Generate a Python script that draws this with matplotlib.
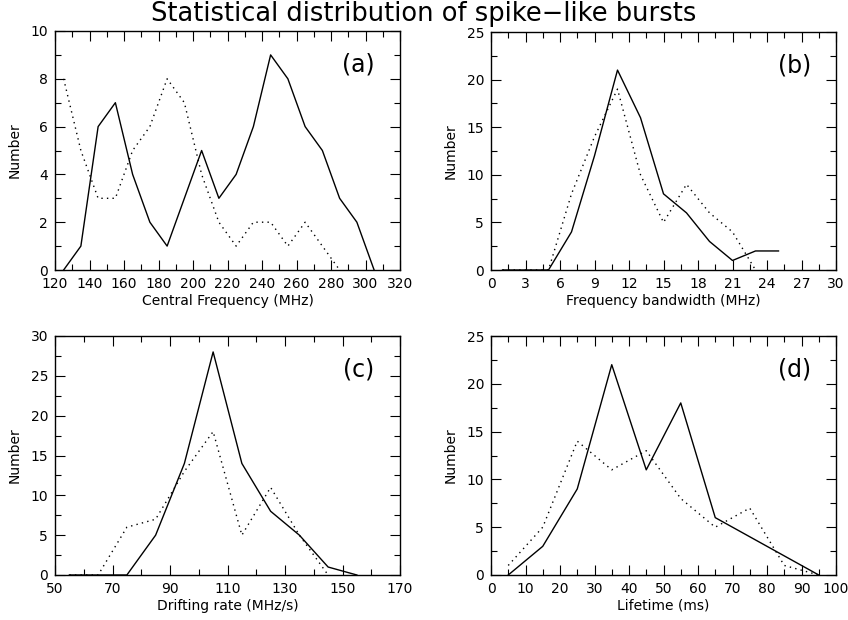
import numpy as np
import matplotlib
matplotlib.use("Agg")
import matplotlib.pyplot as plt
from matplotlib.ticker import MultipleLocator

# (a) central frequency
freq_x = [125, 135, 145, 155, 165, 175, 185, 195, 205, 215, 225, 235, 245, 255, 265, 275, 285, 295, 305]
freq_solid = [0, 1, 6, 7, 4, 2, 1, 3, 5, 3, 4, 6, 9, 8, 6, 5, 3, 2, 0]
freq_dot_x = [125, 135, 145, 155, 165, 175, 185, 195, 205, 215, 225, 235, 245, 255, 265, 275, 285]
freq_dot = [8, 5, 3, 3, 5, 6, 8, 7, 4, 2, 1, 2, 2, 1, 2, 1, 0]

# (b) frequency bandwidth
bw_x = [1, 3, 5, 7, 9, 11, 13, 15, 17, 19, 21, 23, 25]
bw_solid = [0, 0, 0, 4, 12, 21, 16, 8, 6, 3, 1, 2, 2]
bw_dot_x = [1, 3, 5, 7, 9, 11, 13, 15, 17, 19, 21, 23]
bw_dot = [0, 0, 0, 8, 14, 19, 10, 5, 9, 6, 4, 0]

# (c) drifting rate
dr_x = [55, 65, 75, 85, 95, 105, 115, 125, 135, 145, 155]
dr_solid = [0, 0, 0, 5, 14, 28, 14, 8, 5, 1, 0]
dr_dot_x = [55, 65, 75, 85, 95, 105, 115, 125, 135, 145]
dr_dot = [0, 0, 6, 7, 13, 18, 5, 11, 5, 0]

# (d) lifetime
lt_x = [5, 15, 25, 35, 45, 55, 65, 75, 85, 95]
lt_solid = [0, 3, 9, 22, 11, 18, 6, 4, 2, 0]
lt_dot = [1, 5, 14, 11, 13, 8, 5, 7, 1, 0]

W, H = 848, 620
fig = plt.figure(figsize=(W / 100, H / 100), dpi=100)

def box(l, t, r, b):
    return [l / W, 1 - b / H, (r - l) / W, (b - t) / H]

panels = [
    (box(55, 31, 400, 270), freq_x, freq_solid, freq_dot_x, freq_dot,
     (120, 320), (0, 10), 20, 10, 2, 1, "Central Frequency (MHz)", "(a)"),
    (box(491, 32, 836, 270), bw_x, bw_solid, bw_dot_x, bw_dot,
     (0, 30), (0, 25), 3, 1.5, 5, 2.5, "Frequency bandwidth (MHz)", "(b)"),
    (box(55, 336, 400, 575), dr_x, dr_solid, dr_dot_x, dr_dot,
     (50, 170), (0, 30), 20, 10, 5, 2.5, "Drifting rate (MHz/s)", "(c)"),
    (box(491, 336, 836, 575), lt_x, lt_solid, lt_x, lt_dot,
     (0, 100), (0, 25), 10, 5, 5, 2.5, "Lifetime (ms)", "(d)"),
]

for rect, xs, ys, xd, yd, xl, yl, xmaj, xmin, ymaj, ymin, xlabel, tag in panels:
    ax = fig.add_axes(rect)
    ax.plot(xs, ys, color="black", lw=1.0)
    ax.plot(xd, yd, color="black", lw=1.0, linestyle=(0, (1, 3)))
    ax.set_xlim(*xl)
    ax.set_ylim(*yl)
    ax.set_xticks(np.arange(xl[0], xl[1] + 0.01, xmaj))
    ax.xaxis.set_minor_locator(MultipleLocator(xmin))
    ax.yaxis.set_major_locator(MultipleLocator(ymaj))
    ax.yaxis.set_minor_locator(MultipleLocator(ymin))
    ax.tick_params(which="both", direction="in", top=True, right=True,
                   labelsize=10, width=0.8, pad=5)
    ax.tick_params(which="major", length=7)
    ax.tick_params(which="minor", length=4)
    for s in ax.spines.values():
        s.set_linewidth(1.0)
    ax.set_xlabel(xlabel, fontsize=10, labelpad=2)
    ax.set_ylabel("Number", fontsize=10, labelpad=6)
    ax.text(0.88, 0.86, tag, transform=ax.transAxes, fontsize=17,
            ha="center", va="center")

fig.text(0.5, 0.978, "Statistical distribution of spike\u2212like bursts",
         ha="center", va="center", fontsize=18.5)

fig.savefig("out.png", dpi=100)
